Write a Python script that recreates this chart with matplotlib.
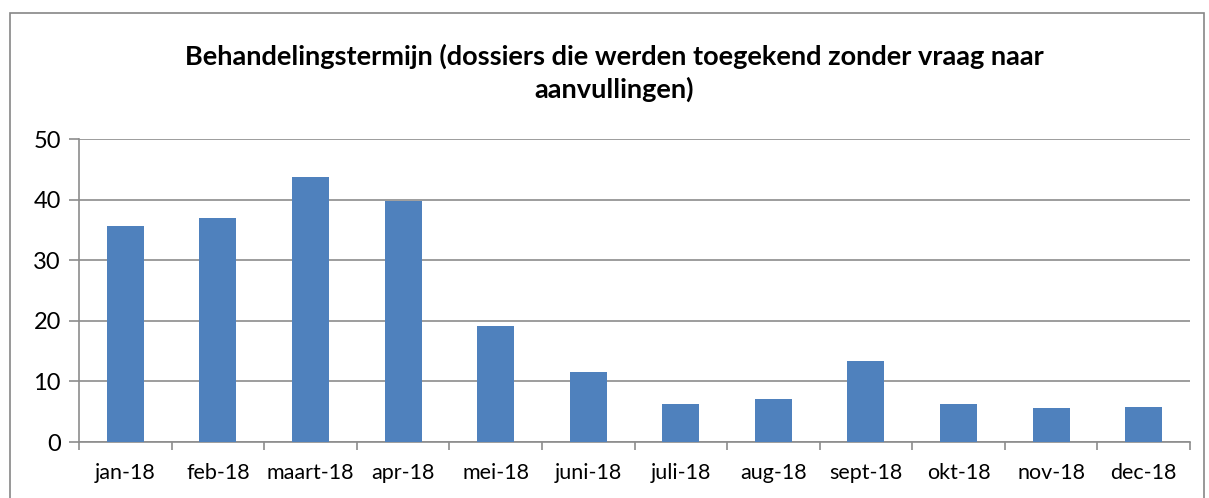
import numpy as np
import matplotlib.pyplot as plt
from matplotlib.patches import Rectangle

months = ["jan-18", "feb-18", "maart-18", "apr-18", "mei-18", "juni-18",
          "juli-18", "aug-18", "sept-18", "okt-18", "nov-18", "dec-18"]
values = [35.7, 37.0, 43.7, 39.7, 19.2, 11.5, 6.2, 7.1, 13.3, 6.2, 5.6, 5.8]

plt.rcParams['font.family'] = ['Lato', 'DejaVu Sans']

fig = plt.figure(figsize=(12.09, 4.98), dpi=100)
ax = fig.add_axes([79/1209, 1 - 442/498, (1190 - 79)/1209, (442 - 139)/498])

# outer chart border
fig.patches.append(Rectangle((10/1209, -0.05), (1204 - 10)/1209, 1.05 - 13/498,
                             transform=fig.transFigure, fill=False,
                             edgecolor="#868686", linewidth=1.2))

x = np.arange(len(months))
ax.bar(x, values, width=0.4, color="#4F81BD", zorder=3)

ax.set_xlim(-0.5, len(months) - 0.5)
ax.set_ylim(0, 50)
ax.set_yticks(range(0, 51, 10))
ax.yaxis.grid(True, color="#8C8C8C", linewidth=1.2, zorder=0)
ax.set_xticks(x)
ax.set_xticklabels(months, fontsize=15.5)
ax.set_xticks(np.arange(-0.5, len(months)), minor=True)
ax.tick_params(axis="x", which="major", length=0, pad=15)
ax.tick_params(axis="x", which="minor", length=6, color="#8C8C8C", width=1.2)
ax.tick_params(axis="y", length=7, color="#8C8C8C", width=1.2, labelsize=17, pad=6)

for s in ["top", "right"]:
    ax.spines[s].set_visible(False)
for s in ["left", "bottom"]:
    ax.spines[s].set_color("#8C8C8C")
    ax.spines[s].set_linewidth(1.2)

fig.text(614/1209, 1 - 73/498,
         "Behandelingstermijn (dossiers die werden toegekend zonder vraag naar\naanvullingen)",
         ha="center", va="center", fontsize=19.5, fontweight="bold",
         linespacing=1.35)

fig.savefig("out.png", dpi=100)
